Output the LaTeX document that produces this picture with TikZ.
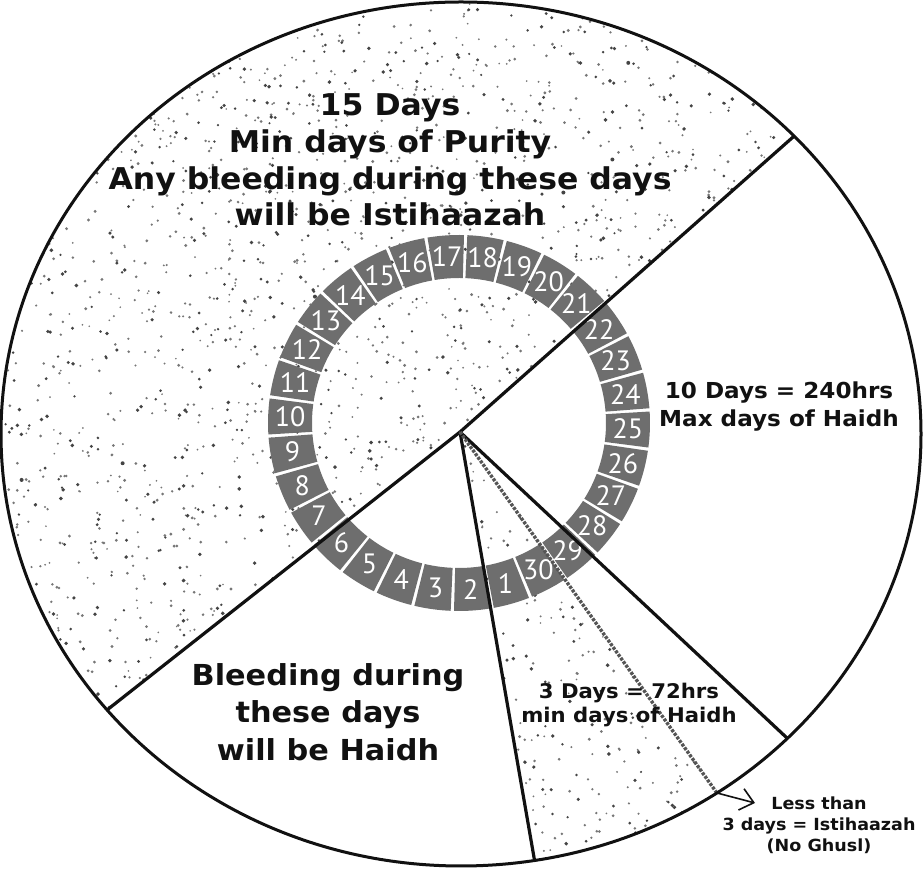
\documentclass[tikz,border=0pt]{standalone}
\usepackage{fontspec}
\usepackage{tikz}
\usetikzlibrary{arrows.meta,calc}
\newfontfamily\lblfont[FakeStretch=1.05]{DejaVu Sans Bold}
\newfontfamily\numfont{PT Sans}
\definecolor{cInk}{HTML}{111111}
\definecolor{cDay}{HTML}{6E6E6E}
\definecolor{cDot}{HTML}{444444}
\definecolor{cDotLt}{HTML}{777777}
\definecolor{cDash}{HTML}{555555}

\begin{document}
\begin{tikzpicture}[x=1pt, y=1pt,
  rim/.style={draw=cInk, line width=3pt},
  split/.style={draw=cInk, line width=3.2pt},
  dashsplit/.style={draw=cDash, line width=3.4pt, dash pattern=on 3pt off 1.4pt},
  day/.style={fill=cDay},
  num/.style={font=\numfont\fontsize{28}{28}\selectfont, text=white, inner sep=0pt},
  lbl/.style={align=center, text=cInk, inner sep=0pt},
  pointer/.style={-{Straight Barb[length=13pt, width=22pt]}, cInk, line width=1.6pt},
]
\useasboundingbox (0,0) rectangle (923,869);

% ---------- key points ----------
\coordinate (C) at (461,435);   % centre of the rim
\coordinate (O) at (460,437);   % where the splits meet
\coordinate (R) at (459,446);   % centre of the day ring
\coordinate (pUR) at ($(C)+(43.6:460 and 432)$);
\coordinate (pLL) at ($(C)+(219.7:460 and 432)$);
\coordinate (pB)  at ($(C)+(-80.8:460 and 432)$);
\coordinate (pLR) at ($(C)+(-44.8:460 and 432)$);
\coordinate (pD)  at ($(C)+(-56.2:460 and 432)$);
\coordinate (tip) at (755,66);

% ---------- stipple: days of purity ----------
\pgfmathsetseed{4711}
\begin{scope}
  \clip (O) -- (pUR) arc[start angle=43.6, end angle=219.7, x radius=460, y radius=432] -- cycle;
  \foreach \i in {1,...,1900}
    \fill[cDotLt] (rnd*800, 150+rnd*720) circle[radius=0.9+0.7*rnd];
  \foreach \i in {1,...,900}
    \fill[cDot] (rnd*800, 150+rnd*720) circle[radius=1.2+0.8*rnd];
\end{scope}

% ---------- stipple: minimum days of haidh ----------
\begin{scope}
  \clip (O) -- (pB) arc[start angle=-80.8, end angle=-56.2, x radius=460, y radius=432] -- cycle;
  \foreach \i in {1,...,320}
    \fill[cDotLt] (460+rnd*260, rnd*440) circle[radius=0.9+0.7*rnd];
  \foreach \i in {1,...,170}
    \fill[cDot] (460+rnd*260, rnd*440) circle[radius=1.2+0.8*rnd];
\end{scope}

% ---------- ring of 30 days ----------
\foreach \d in {1,...,30}{
  \pgfmathsetmacro\a{298-12*\d}
  \fill[day] ($(R)+(\a-5.5:191 and 188)$)
    arc[start angle=\a-5.5, end angle=\a+5.5, x radius=191, y radius=188]
    -- ($(R)+(\a+5.5:147 and 145)$)
    arc[start angle=\a+5.5, end angle=\a-5.5, x radius=147, y radius=145] -- cycle;
  \node[num] (d\d) at ($(R)+(\a:169 and 166.5)$) {\d};
}

% ---------- splits ----------
\draw[split] (O) -- (pUR);
\draw[split] (O) -- (pLL);
\draw[split] (O) -- (pB);
\draw[split] (O) -- (pLR);
\draw[dashsplit] (O) -- (pD);
\draw[pointer] (pD) -- (tip);

% rim
\draw[rim] (C) ellipse[x radius=460, y radius=432];

% ---------- labels ----------
\node[lbl, font=\lblfont\fontsize{30}{36.7}\selectfont] (purity) at (390,709)
  {15 Days\\Min days of Purity\\Any bleeding during these days\\will be Istihaazah};
\node[lbl, font=\lblfont\fontsize{22}{28}\selectfont] (maxh) at (779,462)
  {10 Days = 240hrs\\Max days of Haidh};
\node[lbl, font=\lblfont\fontsize{28.9}{37.5}\selectfont] (haidh) at (328,157)
  {Bleeding during\\these days\\will be Haidh};
\node[lbl, font=\lblfont\fontsize{20.2}{24}\selectfont] (minh) at (629,164)
  {3 Days = 72hrs\\min days of Haidh};
\node[lbl, font=\lblfont\fontsize{16.7}{21}\selectfont] (less) at (819,44)
  {Less than\\3 days = Istihaazah\\(No Ghusl)};

\end{tikzpicture}
\end{document}
